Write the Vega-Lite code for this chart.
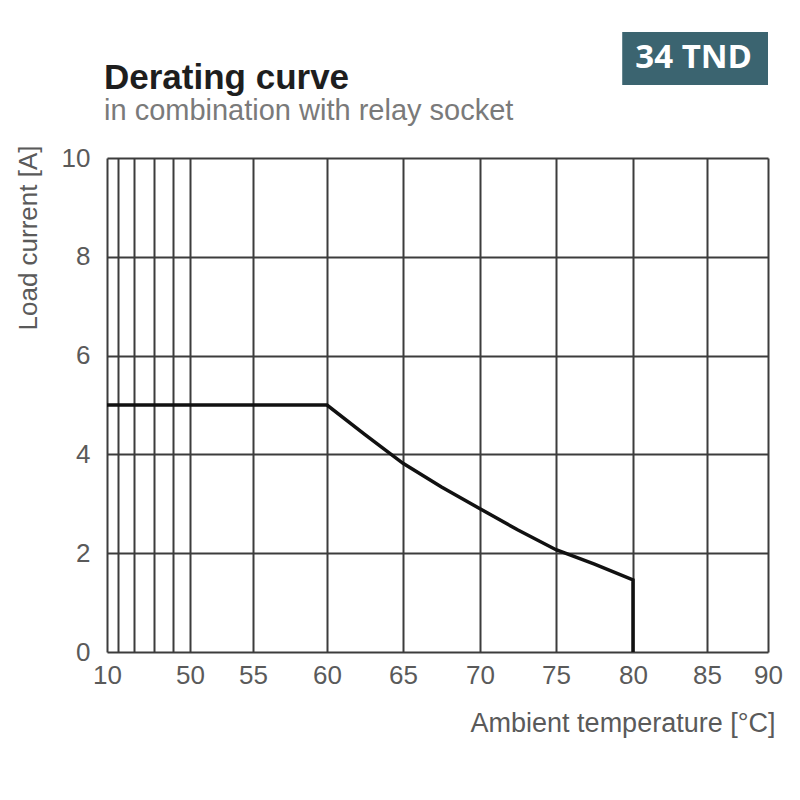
{
  "$schema": "https://vega.github.io/schema/vega-lite/v6.json",
  "width": 661,
  "height": 494,
  "autosize": {"type": "none"},
  "padding": {"left": 107, "top": 158, "right": 32, "bottom": 148},
  "background": "white",
  "title": {
    "text": "Derating curve",
    "subtitle": "in combination with relay socket",
    "anchor": "start",
    "frame": "group",
    "orient": "top",
    "offset": -94,
    "dx": -3,
    "font": "Liberation Sans",
    "fontSize": 35,
    "fontWeight": "bold",
    "color": "#1e1e1e",
    "subtitleFont": "Liberation Sans",
    "subtitleFontSize": 29,
    "subtitleColor": "#7a7a7a",
    "subtitlePadding": 1
  },
  "config": {
    "view": {"stroke": null},
    "axis": {
      "grid": true,
      "gridColor": "#3c3c3c",
      "gridWidth": 2,
      "gridOpacity": 1,
      "ticks": false,
      "domain": false,
      "labelFont": "Liberation Sans",
      "labelFontSize": 26,
      "labelColor": "#5a5a5a",
      "titleFont": "Liberation Sans",
      "titleFontSize": 26,
      "titleFontWeight": "normal",
      "titleColor": "#5a5a5a"
    }
  },
  "layer": [
    {
      "data": {
        "values": [
          {"i": 0, "temp": 10, "current": 5},
          {"i": 1, "temp": 60, "current": 5},
          {"i": 2, "temp": 62.5, "current": 4.4},
          {"i": 3, "temp": 65, "current": 3.82},
          {"i": 4, "temp": 67.5, "current": 3.34},
          {"i": 5, "temp": 70, "current": 2.9},
          {"i": 6, "temp": 72.5, "current": 2.47},
          {"i": 7, "temp": 75, "current": 2.07},
          {"i": 8, "temp": 77.5, "current": 1.78},
          {"i": 9, "temp": 80, "current": 1.46},
          {"i": 10, "temp": 80, "current": 0}
        ]
      },
      "mark": {"type": "line", "color": "#111111", "strokeWidth": 3.5, "clip": false},
      "encoding": {
        "x": {
          "field": "temp",
          "type": "quantitative",
          "scale": {
            "type": "linear",
            "domain": [10, 20, 30, 40, 45, 50, 55, 60, 65, 70, 75, 80, 85, 90],
            "range": [0, 11, 27, 47, 66, 83, 146, 220, 296, 373, 449, 526, 600, 661],
            "nice": false,
            "zero": false
          },
          "axis": {
            "values": [10, 20, 30, 40, 45, 50, 55, 60, 65, 70, 75, 80, 85, 90],
            "labelExpr": "indexof([10,50,55,60,65,70,75,80,85,90], datum.value) >= 0 ? datum.label : ''",
            "labelPadding": 10,
            "labelFlush": false,
            "labelOverlap": false,
            "title": "Ambient temperature [°C]",
            "titleFontSize": 27,
            "titleAnchor": "end",
            "titlePadding": 22,
            "titleX": 668
          }
        },
        "y": {
          "field": "current",
          "type": "quantitative",
          "scale": {"domain": [0, 10], "nice": false},
          "axis": {
            "values": [0, 2, 4, 6, 8, 10],
            "labelPadding": 17,
            "title": "Load current [A]",
            "titleAnchor": "end",
            "titlePadding": 20,
            "titleY": -13
          }
        },
        "order": {"field": "i"}
      }
    },
    {
      "data": {"values": [{"label": "34 TND"}]},
      "mark": {"type": "rect", "color": "#3b6470", "clip": false},
      "encoding": {
        "x": {"datum": 79.3},
        "x2": {"datum": 90},
        "y": {"datum": 11.48},
        "y2": {"datum": 12.55}
      }
    },
    {
      "data": {"values": [{"label": "34 TND"}]},
      "mark": {
        "type": "text",
        "color": "white",
        "font": "Open Sans",
        "fontWeight": "bold",
        "fontSize": 33,
        "align": "center",
        "baseline": "middle",
        "clip": false
      },
      "encoding": {
        "x": {"datum": 84.1},
        "y": {"datum": 12.03},
        "text": {"field": "label"}
      }
    }
  ]
}
